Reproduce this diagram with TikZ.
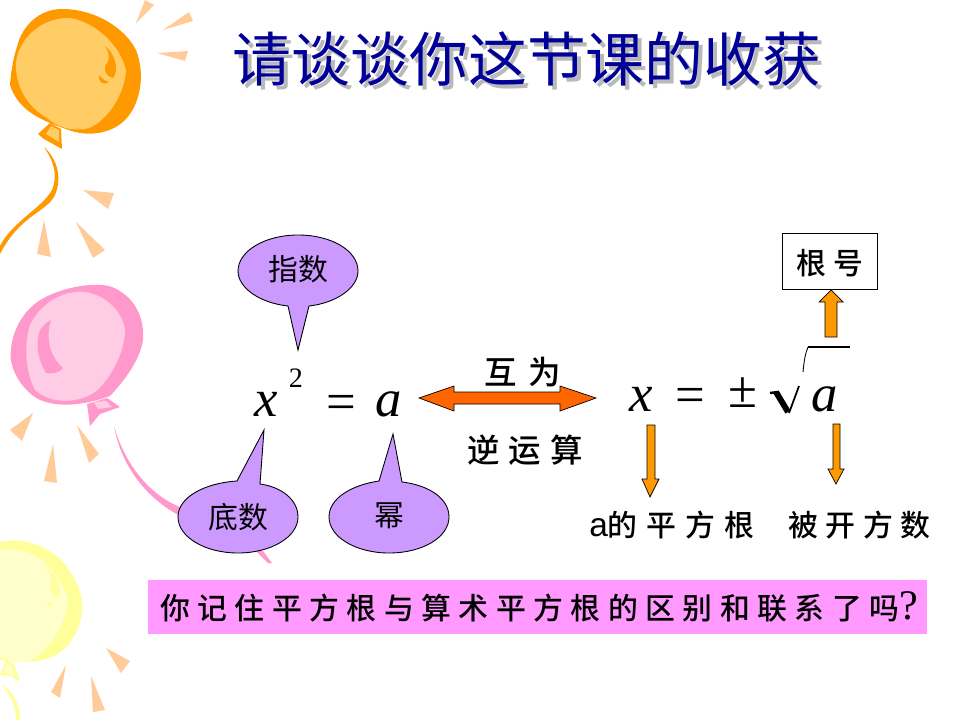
\documentclass[tikz,border=0pt]{standalone}
\usepackage{fontspec}
\newfontfamily\cjk{Noto Sans CJK SC}
\newfontfamily\cjkmedium{Noto Sans CJK SC Medium}
\setmainfont{Liberation Serif}
\definecolor{orangedark}{HTML}{FF9900}
\definecolor{orangelight}{HTML}{FFCC66}
\definecolor{ray}{HTML}{FFCC99}
\definecolor{pinkdark}{HTML}{FF99CC}
\definecolor{pinklight}{HTML}{FFCCE6}
\definecolor{yellowdark}{HTML}{FFFF99}
\definecolor{yellowlight}{HTML}{FFFFCC}
\definecolor{lilac}{HTML}{CC99FF}
\definecolor{barpink}{HTML}{FF99FF}
\definecolor{arrowred}{HTML}{FF6600}
\definecolor{titleblue}{HTML}{000099}
\tikzset{
  x=0.02cm,y=-0.02cm,
  rayshape/.style={fill=ray,draw=none},
  callout/.style={fill=lilac,draw=black,line width=0.5pt},
  blockarrow/.style={fill=orangedark,draw=black,line width=0.4pt},
  cjktext/.style={font=\cjk\fontsize{17}{19}\selectfont,text=black,inner sep=0pt},
  wide/.style={font=\cjkmedium\fontsize{17}{19}\selectfont,text=black,inner sep=0pt},
  large/.style={font=\cjkmedium\fontsize{18.5}{20}\selectfont,text=black,inner sep=0pt},
  mathvar/.style={font=\fontsize{30}{33}\selectfont\itshape,inner sep=0pt},
  mathsym/.style={font=\fontsize{30}{33}\selectfont,inner sep=0pt}
}
\begin{document}
\begin{tikzpicture}
\useasboundingbox (0,0) rectangle (960,720);
\fill[white] (0,0) rectangle (960,720);

% orange balloon
\fill[orangedark] (17,47) .. controls (22,25) and (40,9) .. (62,9)
  .. controls (95,9) and (125,28) .. (136,50)
  .. controls (146,75) and (140,105) .. (125,120)
  .. controls (110,135) and (85,137) .. (66,129)
  .. controls (40,120) and (18,110) .. (10,85)
  .. controls (11,70) and (14,55) .. (17,47) -- cycle;
\fill[orangelight] (16,62) .. controls (20,35) and (45,17) .. (70,18)
  .. controls (95,22) and (120,45) .. (126,70)
  .. controls (125,95) and (105,125) .. (85,129)
  .. controls (70,131) and (58,127) .. (47,118)
  .. controls (30,108) and (15,90) .. (16,62) -- cycle;
\fill[orangedark] (105,46) .. controls (114,52) and (120,70) .. (113,78)
  .. controls (105,76) and (102,68) .. (108,62) .. controls (110,56) and (108,50) .. (105,46) -- cycle;
\fill[orangedark] (99,75) .. controls (103,80) and (106,81) .. (109,82) .. controls (104,86) and (98,82) .. (99,75) -- cycle;
\fill[orangedark] (38,134) -- (50,123) -- (61,129) -- (62,149) -- (44,139) -- cycle;
\fill[orangelight] (46,134) -- (51,126) -- (59,130) -- (59,142) -- cycle;
\fill[orangedark] (44,147) .. controls (58,160) and (62,178) .. (55,195)
  .. controls (47,212) and (20,215) .. (0,254)
  -- (0,246) .. controls (12,222) and (42,208) .. (52,190)
  .. controls (58,175) and (54,162) .. (44,147) -- cycle;
\fill[rayshape] (136,23) -- (145,0) -- (154,5) -- cycle;
\fill[rayshape] (163,30) -- (189,12) -- (193,21) -- cycle;
\fill[rayshape] (157,53) -- (188,51) -- (185,61) -- cycle;
\fill[rayshape] (83,190) -- (114,193) -- (108,209) -- cycle;
\fill[rayshape] (76,222) -- (105,250) -- (93,258) -- cycle;
\fill[rayshape] (44,220) -- (51,257) -- (37,254) -- cycle;

% pink balloon
\fill[pinkdark] (50,295) .. controls (65,288) and (95,281) .. (112,287)
  .. controls (132,295) and (145,315) .. (143,340)
  .. controls (140,360) and (125,380) .. (110,396)
  .. controls (85,405) and (60,408) .. (40,400)
  .. controls (20,390) and (8,365) .. (11,350)
  .. controls (12,330) and (25,305) .. (50,295) -- cycle;
\fill[pinklight] (30,325) .. controls (40,305) and (60,290) .. (85,292)
  .. controls (105,295) and (122,310) .. (125,330)
  .. controls (125,350) and (112,378) .. (95,392)
  .. controls (75,405) and (50,403) .. (35,390)
  .. controls (25,370) and (24,345) .. (30,325) -- cycle;
\fill[pinkdark] (51,320) .. controls (46,335) and (48,355) .. (63,368)
  .. controls (58,374) and (50,374) .. (46,373)
  .. controls (38,360) and (35,345) .. (40,330) .. controls (42,326) and (47,322) .. (51,320) -- cycle;
\fill[pinkdark] (87,404) -- (107,398) -- (120,407) -- (100,414) -- (90,426) -- cycle;
\fill[pinklight] (94,402) -- (106,401) -- (112,407) -- (98,409) -- cycle;
\fill[pinkdark] (114,426) .. controls (125,465) and (150,495) .. (180,507)
  -- (180,516) .. controls (150,500) and (122,470) .. (114,426) -- cycle;
\fill[pinkdark] (255,550) -- (263,551) -- (272,563) -- (268,563) -- cycle;
\fill[rayshape] (33,413) -- (22,441) -- (10,430) -- cycle;
\fill[rayshape] (53,444) -- (57,483) -- (44,481) -- cycle;
\fill[rayshape] (77,425) -- (99,454) -- (89,463) -- cycle;

% yellow balloon
\fill[yellowdark] (0,542) .. controls (25,536) and (58,548) .. (72,575)
  .. controls (88,600) and (84,625) .. (68,645)
  .. controls (55,660) and (35,665) .. (0,660) -- cycle;
\fill[yellowlight] (0,550) .. controls (25,545) and (55,560) .. (68,600)
  .. controls (66,625) and (50,650) .. (28,662)
  .. controls (20,663) and (10,660) .. (0,657) -- cycle;
\fill[yellowdark] (44,565) .. controls (54,572) and (62,585) .. (59,597)
  .. controls (53,597) and (49,590) .. (51,585) .. controls (53,578) and (50,572) .. (44,565) -- cycle;
\fill[yellowdark] (46,600) .. controls (49,603) and (52,604) .. (55,605) .. controls (52,608) and (47,606) .. (46,600) -- cycle;
\fill[yellowdark] (0,675) -- (6,660) -- (14,664) -- (20,681) -- (10,676) -- cycle;
\fill[yellowlight] (4,672) -- (7,664) -- (12,666) -- (15,676) -- cycle;
\fill[yellowdark] (2,685) .. controls (14,692) and (20,705) .. (20,720) -- (16,720) .. controls (16,705) and (10,695) .. (2,685) -- cycle;
\fill[rayshape] (106,648) -- (130,661) -- (121,673) -- cycle;
\fill[rayshape] (66,665) -- (60,698) -- (51,692) -- cycle;
\fill[rayshape] (91,676) -- (105,710) -- (93,712) -- cycle;

% title and its drop shadow
\node[font=\cjk\fontsize{33.5}{36}\selectfont,text=gray!55,inner sep=0pt] (titleshadow) at (531,63) {请谈谈你这节课的收获};
\node[font=\cjk\fontsize{33.5}{36}\selectfont,text=titleblue,inner sep=0pt] (title) at (527,59) {请谈谈你这节课的收获};

% callouts
\draw[callout] (298,350) -- (288,306) .. controls (260,303) and (238,288) .. (238,271)
  .. controls (238,251) and (265,235) .. (298,235)
  .. controls (332,235) and (358,251) .. (358,271)
  .. controls (358,288) and (336,303) .. (309,306) -- cycle;
\draw[callout] (264,430) -- (237,481) .. controls (205,483) and (178,497) .. (178,517)
  .. controls (178,537) and (205,553) .. (238,553)
  .. controls (271,553) and (298,537) .. (298,517)
  .. controls (298,500) and (282,487) .. (260,484) -- cycle;
\draw[callout] (393,434) -- (379,481) .. controls (352,485) and (329,498) .. (329,517)
  .. controls (329,537) and (356,553) .. (389,553)
  .. controls (423,553) and (449,537) .. (449,517)
  .. controls (449,498) and (428,485) .. (402,482) -- cycle;
\node[cjktext] (zhishu) at (298,269) {指数};
\node[cjktext] (dishu) at (238,517) {底数};
\node[cjktext] (mi) at (389,516) {幂};

% left equation
\node[mathvar] (xa) at (266,404) {x};
\node[font=\fontsize{16}{18}\selectfont,inner sep=0pt] (two) at (296,378) {2};
\node[mathsym] (eqa) at (341,407) {=};
\node[mathvar] (aa) at (389,404) {a};

% double arrow
\draw[fill=arrowred,draw=black,line width=0.4pt] (419,398) -- (454,386) -- (454,392) -- (560,392) -- (560,386) -- (596,398)
  -- (560,411) -- (560,404) -- (454,404) -- (454,411) -- cycle;
\node[large] (huwei) at (523,372) {互\hspace{0.35em}为};
\node[large] (niyun) at (525,450) {逆\hspace{0.27em}运\hspace{0.27em}算};

% right equation
\node[mathvar] (xb) at (641.5,399) {x};
\node[mathsym] (eqb) at (690.5,400) {=};
\node[mathsym] (pm) at (742.5,393) {±};
\draw[line width=0.5pt] (803,372) .. controls (804,362) and (805,354) .. (808,347);
\draw[line width=0.8pt] (808,347) -- (850,347);
\draw[line width=1.4pt] (770,393) -- (778,392);
\draw[line width=3.4pt] (776,392) -- (788,412);
\draw[line width=1pt] (789,413) -- (799,386);
\node[mathvar] (ab) at (825,399) {a};

% radical-sign label
\node[draw=black,line width=0.5pt,fill=white,minimum width=1.9cm,minimum height=1.12cm,inner sep=0pt] (genhao) at (829.5,261) {};
\node[wide] (genhaotext) at (830,263) {根\hspace{0.23em}号};
\draw[blockarrow] (825,337) -- (825,302) -- (819,302) -- (831,290) -- (843,302) -- (837,302) -- (837,337) -- cycle;

% downward arrows
\draw[blockarrow] (647,425) -- (655,425) -- (655,479) -- (659,479) -- (650,497) -- (642,479) -- (647,479) -- cycle;
\draw[blockarrow] (833,424) -- (840,424) -- (840,469) -- (844,469) -- (836,484) -- (828,469) -- (833,469) -- cycle;

\node[wide,anchor=west] (pfg) at (589,525) {{\fontspec{Liberation Sans}\fontsize{19}{20}\selectfont a}的\hspace{0.3em}平\hspace{0.3em}方\hspace{0.3em}根};
\node[wide,anchor=west] (bkf) at (788,525) {被\hspace{0.25em}开\hspace{0.25em}方\hspace{0.25em}数};

% closing question
\node[fill=barpink,minimum width=15.58cm,minimum height=1.08cm,inner sep=0pt] (bar) at (537.5,607) {};
\node[wide] (q) at (539,607) {你\hspace{0.25em}记\hspace{0.25em}住\hspace{0.25em}平\hspace{0.25em}方\hspace{0.25em}根\hspace{0.25em}与\hspace{0.25em}算\hspace{0.25em}术\hspace{0.25em}平\hspace{0.25em}方\hspace{0.25em}根\hspace{0.25em}的\hspace{0.25em}区\hspace{0.25em}别\hspace{0.25em}和\hspace{0.25em}联\hspace{0.25em}系\hspace{0.25em}了\hspace{0.25em}吗{\fontspec{Liberation Serif}\fontsize{24}{26}\selectfont ?}};
\end{tikzpicture}
\end{document}
